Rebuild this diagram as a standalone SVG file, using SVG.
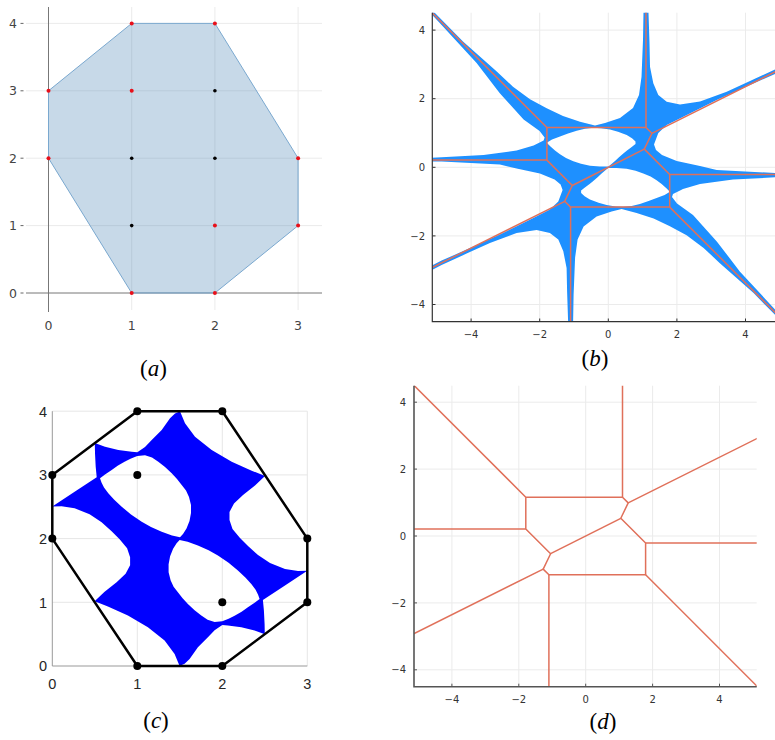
<svg xmlns="http://www.w3.org/2000/svg" width="775" height="740" viewBox="0 0 775 740">
<style>
.grid{stroke:#ebebeb;stroke-width:1;fill:none}
.spine{stroke:#333;stroke-width:1.2;fill:none}
.tk{font-family:"DejaVu Sans",sans-serif;font-size:10px;fill:#333}
.tka{font-family:"DejaVu Sans",sans-serif;font-size:12.5px;fill:#444}
.tkc{font-family:"Liberation Sans",Arial,sans-serif;font-size:14.5px;fill:#262626}
.cap{font-family:"Liberation Serif","Times New Roman",serif;font-size:23px;fill:#000}
.trop{fill:none;stroke:#e0705a;stroke-width:1.5;stroke-linejoin:round}
.rd{fill:#e8101a}
.bk{fill:#000}
</style>
<defs>
<clipPath id="clipB"><rect x="432.3" y="12.7" width="342.7" height="309"/></clipPath>
<clipPath id="clipD"><rect x="414" y="385.7" width="342.7" height="301"/></clipPath>
</defs>
<rect width="775" height="740" fill="#fff"/>

<!-- Panel (a) -->
<g id="panel-a">
<g class="grid">
<line x1="131.7" y1="7" x2="131.7" y2="310"/><line x1="214.9" y1="7" x2="214.9" y2="310"/><line x1="298.1" y1="7" x2="298.1" y2="310"/>
<line x1="26" y1="23.4" x2="322" y2="23.4"/><line x1="26" y1="90.8" x2="322" y2="90.8"/><line x1="26" y1="158.2" x2="322" y2="158.2"/><line x1="26" y1="225.6" x2="322" y2="225.6"/>
</g>
<line x1="48.5" y1="7" x2="48.5" y2="312" stroke="#777" stroke-width="1"/>
<line x1="26" y1="293" x2="322" y2="293" stroke="#777" stroke-width="1"/>
<polygon points="131.7,23.4 214.9,23.4 298.1,158.2 298.1,225.6 214.9,293 131.7,293 48.5,158.2 48.5,90.8" fill="#4682b4" fill-opacity="0.3" stroke="#7aa8cf" stroke-width="1"/>
<g stroke="#666" stroke-width="1">
<line x1="20.5" y1="23.4" x2="23.5" y2="23.4"/><line x1="20.5" y1="90.8" x2="23.5" y2="90.8"/><line x1="20.5" y1="158.2" x2="23.5" y2="158.2"/><line x1="20.5" y1="225.6" x2="23.5" y2="225.6"/><line x1="20.5" y1="293" x2="23.5" y2="293"/>
</g>
<text class="tka" x="17" y="28" text-anchor="end">4</text>
<text class="tka" x="17" y="95.4" text-anchor="end">3</text>
<text class="tka" x="17" y="162.8" text-anchor="end">2</text>
<text class="tka" x="17" y="230.2" text-anchor="end">1</text>
<text class="tka" x="17" y="297.6" text-anchor="end">0</text>
<text class="tka" x="48.5" y="330" text-anchor="middle">0</text>
<text class="tka" x="131.7" y="330" text-anchor="middle">1</text>
<text class="tka" x="214.9" y="330" text-anchor="middle">2</text>
<text class="tka" x="298.1" y="330" text-anchor="middle">3</text>
<g>
<circle class="rd" cx="131.7" cy="23.4" r="2"/><circle class="rd" cx="214.9" cy="23.4" r="2"/>
<circle class="rd" cx="48.5" cy="90.8" r="2"/><circle class="rd" cx="131.7" cy="90.8" r="2"/>
<circle class="rd" cx="48.5" cy="158.2" r="2"/><circle class="rd" cx="298.1" cy="158.2" r="2"/>
<circle class="rd" cx="214.9" cy="225.6" r="2"/><circle class="rd" cx="298.1" cy="225.6" r="2"/>
<circle class="rd" cx="131.7" cy="293" r="2"/><circle class="rd" cx="214.9" cy="293" r="2"/>
<circle class="bk" cx="214.9" cy="90.8" r="1.8"/><circle class="bk" cx="131.7" cy="158.2" r="1.8"/>
<circle class="bk" cx="214.9" cy="158.2" r="1.8"/><circle class="bk" cx="131.7" cy="225.6" r="1.8"/>
</g>
<text class="cap" x="153.5" y="376" text-anchor="middle">(<tspan font-style="italic">a</tspan>)</text>
</g>

<!-- Panel (b) -->
<g id="panel-b">
<g class="grid">
<line x1="471.1" y1="12.7" x2="471.1" y2="321.7"/><line x1="539.7" y1="12.7" x2="539.7" y2="321.7"/><line x1="608.3" y1="12.7" x2="608.3" y2="321.7"/><line x1="676.9" y1="12.7" x2="676.9" y2="321.7"/><line x1="745.5" y1="12.7" x2="745.5" y2="321.7"/>
<line x1="432.3" y1="30.1" x2="775" y2="30.1"/><line x1="432.3" y1="98.7" x2="775" y2="98.7"/><line x1="432.3" y1="167.3" x2="775" y2="167.3"/><line x1="432.3" y1="235.9" x2="775" y2="235.9"/><line x1="432.3" y1="304.5" x2="775" y2="304.5"/>
</g>
<g clip-path="url(#clipB)">
<path fill="#1e90ff" fill-rule="evenodd" d="M646.2,-25 L648.5,-20 648.5,13 649.5,43 650,66.7 653.3,83.3 658.3,95 666.7,101.7 680,104.5 700,101.5 726.7,91.7 750,81 775,69.5 800,57 803,59 800,61 775,74 750,85 716.7,100 683.3,116.7 666.7,125 658.3,133 654,144.5 656,150 662,155 676.7,161 700,166 716.7,170 775,173 800,173.3 803,174.5 800,176 775,177.3 733,179.5 700,184 683,189 673,194 672,197 677,203.5 693,215 717,241.7 740,271.7 775,309.5 800,336.5 806.6,343.6 783.6,323.6 753.6,293.1 719.6,262.9 703.6,247.9 686.6,235.3 669.9,226.3 653.6,218.6 636.6,212.9 621.6,209.1 611.6,211.6 596.6,216.6 583.6,226.6 577.6,239.6 575.1,257.6 573.6,294.6 573.1,322.6 572.7,354.6 570.4,359.6 568.1,354.6 568.1,321.6 567.1,291.6 566.6,267.9 563.3,251.3 558.3,239.6 549.9,232.9 536.6,230.1 516.6,233.1 489.9,242.9 466.6,253.6 441.6,265.1 416.6,277.6 413.6,275.6 416.6,273.6 441.6,260.6 466.6,249.6 499.9,234.6 533.3,217.9 549.9,209.6 558.3,201.6 562.6,190.1 560.6,184.6 554.6,179.6 539.9,173.6 516.6,168.6 499.9,164.6 441.6,161.6 416.6,161.3 413.6,160.1 416.6,158.6 441.6,157.3 483.6,155.1 516.6,150.6 533.6,145.6 543.6,140.6 544.6,137.6 539.6,131.1 523.6,119.6 499.6,92.9 476.6,62.9 441.6,25.1 416.6,-1.9 410,-9 433,11 463,41.5 497,71.7 513,86.7 530,99.3 546.7,108.3 563,116 580,121.7 595,125.5 605,123 620,118 633,108 639,95 641.5,77 643,40 643.5,12 643.9,-20 Z
M546.7,142.8 L552,139.5 560,136.5 568,133.5 576.7,130.7 585,128.7 593.3,127.8 601,128.2 610,129.5 618,131.8 626.7,135 632,138.3 635.5,141.5 635.5,144 631.7,147 627,150.5 623.3,153.5 619,157.3 615,161 611.5,164 608.5,166.6 600,166.6 590,165.8 581,163.8 573.3,161.2 566,158 560,154.3 555,150.5 550.5,146.5 Z
M669.9,191.8 L664.6,195.1 656.6,198.1 648.6,201.1 639.9,203.9 631.6,205.9 623.3,206.8 615.6,206.4 606.6,205.1 598.6,202.8 589.9,199.6 584.6,196.3 581.1,193.1 581.1,190.6 584.9,187.6 589.6,184.1 593.3,181.1 597.6,177.3 601.6,173.6 605.1,170.6 608.1,168 616.6,168 626.6,168.8 635.6,170.8 643.3,173.4 650.6,176.6 656.6,180.3 661.6,184.1 666.1,188.1 Z"/>
<g class="trop">
<polyline points="400,-19.4 546.9,127.5 646,127.5 651.9,133.3 644.3,149.1 669.7,174.5 669.7,207.1 570.6,207.1 564.7,201.3 572.3,185.5 546.9,160.1 546.9,127.5"/>
<line x1="646" y1="127.5" x2="646" y2="0"/>
<line x1="651.9" y1="133.3" x2="800" y2="59.3"/>
<line x1="644.3" y1="149.1" x2="572.3" y2="185.5"/>
<line x1="669.7" y1="174.5" x2="800" y2="174.5"/>
<line x1="669.7" y1="207.1" x2="800" y2="337.4"/>
<line x1="570.6" y1="207.1" x2="570.6" y2="340"/>
<line x1="564.7" y1="201.3" x2="400" y2="283.6"/>
<line x1="546.9" y1="160.1" x2="400" y2="160.1"/>
</g>
</g>
<polyline class="spine" points="432.3,12.7 432.3,321.7 775,321.7"/>
<g stroke="#333" stroke-width="1">
<line x1="432.3" y1="30.1" x2="435.5" y2="30.1"/><line x1="432.3" y1="98.7" x2="435.5" y2="98.7"/><line x1="432.3" y1="167.3" x2="435.5" y2="167.3"/><line x1="432.3" y1="235.9" x2="435.5" y2="235.9"/><line x1="432.3" y1="304.5" x2="435.5" y2="304.5"/>
<line x1="471.1" y1="321.7" x2="471.1" y2="318.5"/><line x1="539.7" y1="321.7" x2="539.7" y2="318.5"/><line x1="608.3" y1="321.7" x2="608.3" y2="318.5"/><line x1="676.9" y1="321.7" x2="676.9" y2="318.5"/><line x1="745.5" y1="321.7" x2="745.5" y2="318.5"/>
</g>
<text class="tk" x="425" y="33.7" text-anchor="end">4</text>
<text class="tk" x="425" y="102.3" text-anchor="end">2</text>
<text class="tk" x="425" y="170.9" text-anchor="end">0</text>
<text class="tk" x="425" y="239.5" text-anchor="end">−2</text>
<text class="tk" x="425" y="308.1" text-anchor="end">−4</text>
<text class="tk" x="471.1" y="338" text-anchor="middle">−4</text>
<text class="tk" x="539.7" y="338" text-anchor="middle">−2</text>
<text class="tk" x="608.3" y="338" text-anchor="middle">0</text>
<text class="tk" x="676.9" y="338" text-anchor="middle">2</text>
<text class="tk" x="745.5" y="338" text-anchor="middle">4</text>
<text class="cap" x="595" y="366" text-anchor="middle">(<tspan font-style="italic">b</tspan>)</text>
</g>

<!-- Panel (c) -->
<g id="panel-c">
<g stroke="#e6e6e6" stroke-width="1" fill="none">
<line x1="137.3" y1="411.2" x2="137.3" y2="666"/><line x1="222.3" y1="411.2" x2="222.3" y2="666"/><line x1="307.3" y1="411.2" x2="307.3" y2="666"/>
<line x1="52.3" y1="411.2" x2="307.3" y2="411.2"/><line x1="52.3" y1="474.9" x2="307.3" y2="474.9"/><line x1="52.3" y1="538.6" x2="307.3" y2="538.6"/><line x1="52.3" y1="602.3" x2="307.3" y2="602.3"/>
</g>
<polyline points="52.3,411.2 52.3,666 307.3,666" fill="none" stroke="#999" stroke-width="1"/>
<path fill="#0000ff" fill-rule="evenodd" d="M52.3,506.5 L75,491.5 96.7,477.3 95.7,466.7 95,453.3 94.8,443 105,446.7 118.3,450 131.7,451.7 137.3,452.3 145,447 151.7,440 161.7,430 170,418.3 175,413.5 180,411.3 185,423.3 195,436.7 211.7,450 231.7,461.7 251.7,470.7 265,476 255,485.5 243,495 234,503.5 229.5,512 229.5,520 232.5,529 240,538 248,546 258,555 270,563 285,569 298,571 307.3,570.7 284.6,585.7 262.9,599.9 263.9,610.5 264.6,623.9 264.8,634.2 254.6,630.5 241.3,627.2 227.9,625.5 222.3,624.9 214.6,630.2 207.9,637.2 197.9,647.2 189.6,658.9 184.6,663.7 179.6,665.9 174.6,653.9 164.6,640.5 147.9,627.2 127.9,615.5 107.9,606.5 94.6,601.2 104.6,591.7 116.6,582.2 125.6,573.7 130.1,565.2 130.1,557.2 127.1,548.2 119.6,539.2 111.6,531.2 101.6,522.2 89.6,514.2 74.6,508.2 61.6,506.2 Z
M100,478.3 L105,474.5 111.7,470 118,465.5 125,461.5 131,458.5 137.3,456 145,455.2 152,457.5 158.3,461.7 165,467 171.7,473.3 177,479 181.7,485 186,490.5 189,497 191,505 191,513 189.5,521 186.5,528.5 183,534 180,537.3 172,535.5 161.7,531.7 151,527 141.7,521.7 131,514.5 121.7,506.7 114,499.5 108.3,493.3 104,487.5 101.5,482.5 Z
M259.6,598.9 L254.6,602.7 247.9,607.2 241.6,611.7 234.6,615.7 228.6,618.7 222.3,621.2 214.6,622 207.6,619.7 201.3,615.5 194.6,610.2 187.9,603.9 182.6,598.2 177.9,592.2 173.6,586.7 170.6,580.2 168.6,572.2 168.6,564.2 170.1,556.2 173.1,548.7 176.6,543.2 179.6,539.9 187.6,541.7 197.9,545.5 208.6,550.2 217.9,555.5 228.6,562.7 237.9,570.5 245.6,577.7 251.3,583.9 255.6,589.7 258.1,594.7 Z"/>
<polygon points="137.3,411.2 222.3,411.2 307.3,538.6 307.3,602.3 222.3,666 137.3,666 52.3,538.6 52.3,474.9" fill="none" stroke="#000" stroke-width="2.5" stroke-linejoin="round"/>
<g class="bk">
<circle cx="137.3" cy="411.2" r="4"/><circle cx="222.3" cy="411.2" r="4"/><circle cx="307.3" cy="538.6" r="4"/><circle cx="307.3" cy="602.3" r="4"/>
<circle cx="222.3" cy="666" r="4"/><circle cx="137.3" cy="666" r="4"/><circle cx="52.3" cy="538.6" r="4"/><circle cx="52.3" cy="474.9" r="4"/>
<circle cx="137.3" cy="474.9" r="4"/><circle cx="222.3" cy="602.3" r="4"/>
</g>
<text class="tkc" x="47" y="416.5" text-anchor="end">4</text>
<text class="tkc" x="47" y="480.2" text-anchor="end">3</text>
<text class="tkc" x="47" y="543.9" text-anchor="end">2</text>
<text class="tkc" x="47" y="607.6" text-anchor="end">1</text>
<text class="tkc" x="47" y="671.3" text-anchor="end">0</text>
<text class="tkc" x="52.3" y="688.5" text-anchor="middle">0</text>
<text class="tkc" x="137.3" y="688.5" text-anchor="middle">1</text>
<text class="tkc" x="222.3" y="688.5" text-anchor="middle">2</text>
<text class="tkc" x="307.3" y="688.5" text-anchor="middle">3</text>
<text class="cap" x="156" y="728" text-anchor="middle">(<tspan font-style="italic">c</tspan>)</text>
</g>

<!-- Panel (d) -->
<g id="panel-d">
<g class="grid">
<line x1="451.9" y1="385.7" x2="451.9" y2="686.7"/><line x1="518.8" y1="385.7" x2="518.8" y2="686.7"/><line x1="585.7" y1="385.7" x2="585.7" y2="686.7"/><line x1="652.6" y1="385.7" x2="652.6" y2="686.7"/><line x1="719.5" y1="385.7" x2="719.5" y2="686.7"/>
<line x1="414" y1="402.2" x2="756.7" y2="402.2"/><line x1="414" y1="469.1" x2="756.7" y2="469.1"/><line x1="414" y1="536" x2="756.7" y2="536"/><line x1="414" y1="602.9" x2="756.7" y2="602.9"/><line x1="414" y1="669.8" x2="756.7" y2="669.8"/>
</g>
<g clip-path="url(#clipD)" class="trop">
<polyline points="400,371.4 525.8,497.2 622.5,497.2 628.2,502.9 620.8,518.3 645.6,543 645.6,574.8 548.9,574.8 543.2,569.1 550.6,553.7 525.8,529 525.8,497.2"/>
<line x1="622.5" y1="497.2" x2="622.5" y2="380"/>
<line x1="628.2" y1="502.9" x2="770" y2="432"/>
<line x1="620.8" y1="518.3" x2="550.6" y2="553.7"/>
<line x1="645.6" y1="543" x2="770" y2="543"/>
<line x1="645.6" y1="574.8" x2="770" y2="699.2"/>
<line x1="548.9" y1="574.8" x2="548.9" y2="700"/>
<line x1="543.2" y1="569.1" x2="400" y2="640.7"/>
<line x1="525.8" y1="529" x2="400" y2="529"/>
</g>
<polyline points="414,385.7 414,686.7 756.7,686.7" fill="none" stroke="#555" stroke-width="1.6"/>
<g stroke="#555" stroke-width="1">
<line x1="414" y1="402.2" x2="417" y2="402.2"/><line x1="414" y1="469.1" x2="417" y2="469.1"/><line x1="414" y1="536" x2="417" y2="536"/><line x1="414" y1="602.9" x2="417" y2="602.9"/><line x1="414" y1="669.8" x2="417" y2="669.8"/>
<line x1="451.9" y1="686.7" x2="451.9" y2="683.7"/><line x1="518.8" y1="686.7" x2="518.8" y2="683.7"/><line x1="585.7" y1="686.7" x2="585.7" y2="683.7"/><line x1="652.6" y1="686.7" x2="652.6" y2="683.7"/><line x1="719.5" y1="686.7" x2="719.5" y2="683.7"/>
</g>
<text class="tk" x="406" y="405.8" text-anchor="end">4</text>
<text class="tk" x="406" y="472.7" text-anchor="end">2</text>
<text class="tk" x="406" y="539.6" text-anchor="end">0</text>
<text class="tk" x="406" y="606.5" text-anchor="end">−2</text>
<text class="tk" x="406" y="673.4" text-anchor="end">−4</text>
<text class="tk" x="451.9" y="703" text-anchor="middle">−4</text>
<text class="tk" x="518.8" y="703" text-anchor="middle">−2</text>
<text class="tk" x="585.7" y="703" text-anchor="middle">0</text>
<text class="tk" x="652.6" y="703" text-anchor="middle">2</text>
<text class="tk" x="719.5" y="703" text-anchor="middle">4</text>
<text class="cap" x="603" y="729" text-anchor="middle">(<tspan font-style="italic">d</tspan>)</text>
</g>
</svg>
